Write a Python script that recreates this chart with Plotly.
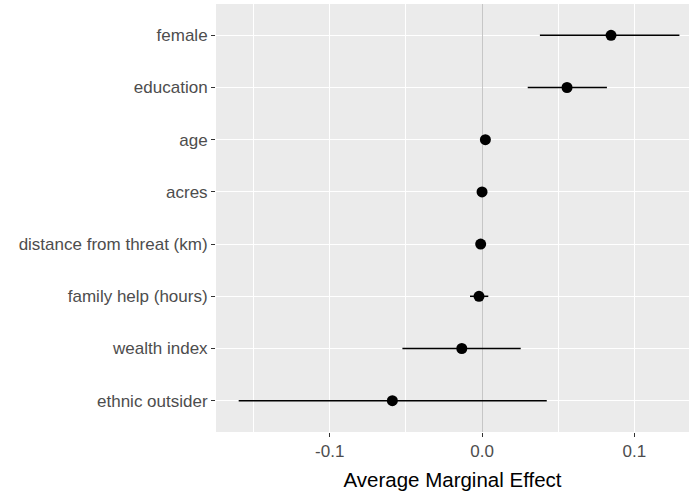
import plotly.graph_objects as go

# bottom to top
variables = ["ethnic outsider", "wealth index", "family help (hours)",
             "distance from threat (km)", "acres", "age", "education", "female"]
ame = [-0.0589, -0.0133, -0.0020, -0.0009, 0.0000, 0.0022, 0.0558, 0.0847]
ci_low = [-0.1598, -0.0523, -0.0079, -0.0030, -0.0015, 0.0008, 0.0300, 0.0380]
ci_high = [0.0425, 0.0254, 0.0041, 0.0012, 0.0015, 0.0036, 0.0820, 0.1296]

x_tickvals = [-0.1, 0.0, 0.1]
x_ticktext = ["-0.1", "0.0", "0.1"]

err_plus = [h - m for h, m in zip(ci_high, ame)]
err_minus = [m - l for m, l in zip(ame, ci_low)]

fig = go.Figure()
fig.add_trace(go.Scatter(
    x=ame, y=variables, mode="markers",
    marker=dict(color="black", size=11, symbol="circle"),
    error_x=dict(type="data", symmetric=False, array=err_plus,
                 arrayminus=err_minus, color="black", thickness=1.5, width=0),
    showlegend=False,
))

fig.update_layout(
    width=691, height=492,
    margin=dict(l=216, r=2, t=4, b=60),
    paper_bgcolor="white",
    plot_bgcolor="#ebebeb",
    font=dict(family="Liberation Sans, Arial, sans-serif", size=17, color="#4d4d4d"),
    xaxis=dict(
        range=[-0.1747, 0.1359],
        tickvals=x_tickvals, ticktext=x_ticktext,
        showgrid=True, gridcolor="white", gridwidth=1.2,
        minor=dict(dtick=0.05, tick0=0.05, showgrid=True, gridcolor="white", gridwidth=0.6),
        zeroline=True, zerolinecolor="#c6c6c6", zerolinewidth=1,
        ticks="outside", ticklen=4, tickcolor="#333333", tickwidth=1,
        title=dict(text="Average Marginal Effect", font=dict(size=20.5, color="black"), standoff=12),
        showline=False,
    ),
    yaxis=dict(
        type="category",
        categoryorder="array", categoryarray=variables,
        range=[-0.6, 7.6],
        showgrid=True, gridcolor="white", gridwidth=1.2,
        ticks="outside", ticklen=4, tickcolor="#333333", tickwidth=1,
        zeroline=False, showline=False,
    ),
)

fig.write_html("out.html", config={"displayModeBar": False},
               post_script="document.body.style.margin='0';")
